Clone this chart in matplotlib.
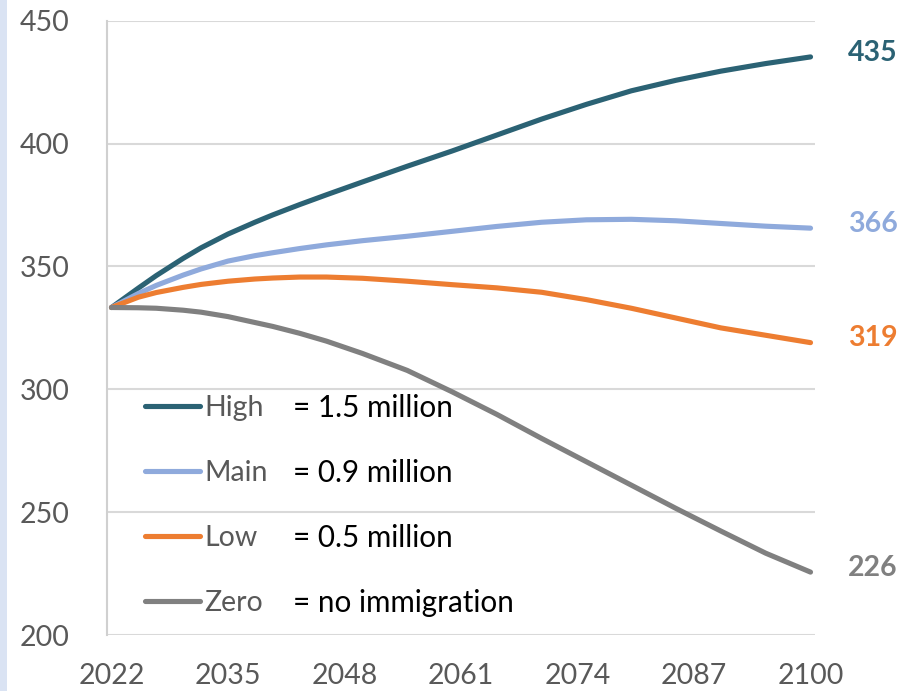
import matplotlib
matplotlib.use("Agg")
import matplotlib.pyplot as plt
from matplotlib.patches import Rectangle

years = [2022, 2025, 2027, 2030, 2032, 2035, 2038, 2040, 2043, 2046, 2050,
         2055, 2060, 2065, 2070, 2075, 2080, 2085, 2090, 2095, 2100]
high = [333.3, 341.2, 346.3, 353.3, 357.6, 363.2, 368, 371, 375.2, 379.2, 384.4,
        390.8, 397, 403.5, 410, 416, 421.5, 425.8, 429.5, 432.6, 435.3]
main = [333.3, 339, 342.3, 346.5, 349, 352.2, 354.4, 355.6, 357.3, 358.8, 360.5,
        362.3, 364.3, 366.3, 368, 369, 369.2, 368.6, 367.5, 366.4, 365.6]
low = [333.3, 337.5, 339.4, 341.5, 342.7, 344, 344.9, 345.3, 345.7, 345.7, 345.2,
       344, 342.6, 341.3, 339.5, 336.5, 333, 329, 325, 322, 319]
zero = [333.3, 333.2, 333, 332.2, 331.4, 329.6, 327.2, 325.6, 322.8, 319.6, 314.6,
        307.7, 299, 289.8, 280, 270.5, 261, 251.5, 242.3, 233.3, 225.6]

series_names = ["High", "Main", "Low", "Zero"]
series_desc = ["= 1.5 million", "= 0.9 million", "= 0.5 million", "= no immigration"]
series_vals = [high, main, low, zero]
colors = ["#2b6274", "#8faadc", "#ed7d31", "#808080"]
end_labels = ["435", "366", "319", "226"]

x_ticks = [2022, 2035, 2048, 2061, 2074, 2087, 2100]
y_ticks = [200, 250, 300, 350, 400, 450]

plt.rcParams['font.family'] = ['Lato', 'DejaVu Sans']

fig = plt.figure(figsize=(9.12, 6.91), dpi=100)
fig.patches.append(Rectangle((0, 0), 7 / 912, 1, transform=fig.transFigure,
                             facecolor="#dae3f3", edgecolor="none"))
ax = fig.add_axes([107 / 912, 1 - 635 / 691, (815 - 107) / 912, (635 - 20.8) / 691])

lines = []
for vals, c in zip(series_vals, colors):
    ln, = ax.plot(years, vals, color=c, lw=3.7, solid_capstyle='round',
                  solid_joinstyle='round', zorder=3)
    lines.append(ln)

for vals, c, lab in zip(series_vals, colors, end_labels):
    ax.annotate(lab, xy=(years[-1], vals[-1]), xytext=(27, 3), textcoords='offset points',
                ha='left', va='center', fontsize=20.5, fontweight='bold', color=c)

ax.set_xlim(2021.5, 2100.5)
ax.set_ylim(200, 450)
ax.set_xticks(x_ticks)
ax.set_yticks(y_ticks)
ax.tick_params(axis='both', length=0, labelsize=20.5, labelcolor="#595959")
ax.tick_params(axis='y', pad=27)
ax.tick_params(axis='x', pad=20)
ax.yaxis.grid(True, color="#d9d9d9", lw=1.5)
ax.set_axisbelow(True)
for s in ['top', 'right', 'bottom']:
    ax.spines[s].set_visible(False)
ax.spines['left'].set_color("#d0d0d0")
ax.spines['left'].set_linewidth(1.5)

leg1 = ax.legend(lines, series_names, loc='upper left',
                 bbox_to_anchor=(145 / 912, 1 - 395 / 691), bbox_transform=fig.transFigure,
                 frameon=False, fontsize=20.5, handlelength=1.93, handletextpad=0.14,
                 labelspacing=1.365, borderpad=0, borderaxespad=0)
for t in leg1.get_texts():
    t.set_color("#595959")

fig.canvas.draw()
inv = fig.transFigure.inverted()
for t, desc in zip(leg1.get_texts(), series_desc):
    bb = t.get_window_extent()
    yc = inv.transform((0, (bb.y0 + bb.y1) / 2))[1]
    fig.text(293 / 912, yc, desc, ha='left', va='center', fontsize=21.3, color="#000000")

fig.savefig("out.png", dpi=100)
